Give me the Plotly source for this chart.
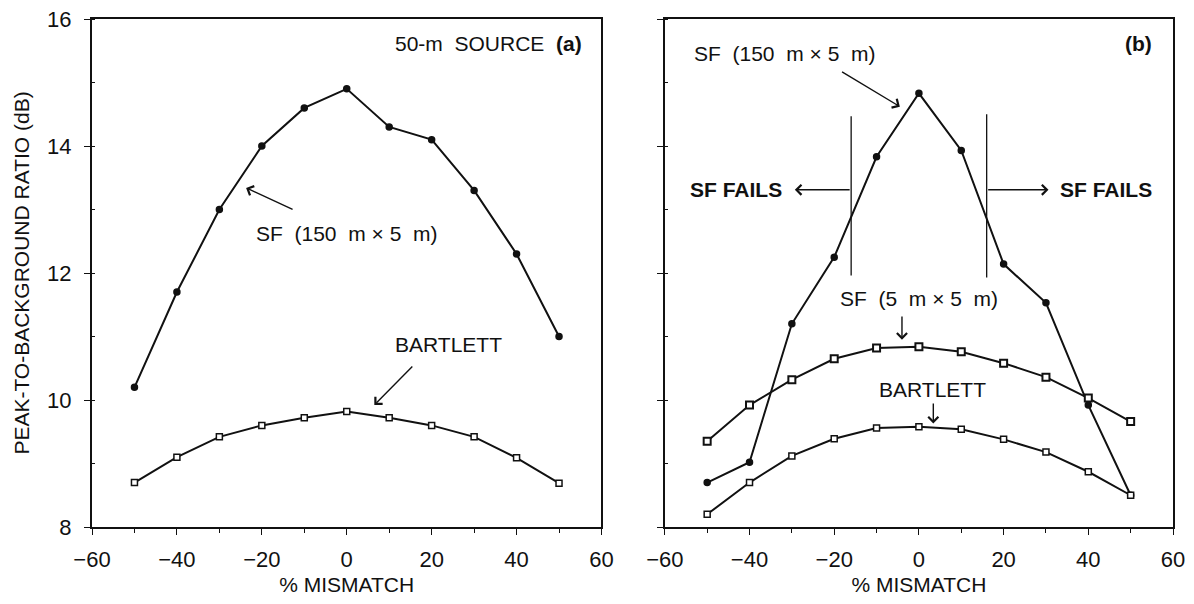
import plotly.graph_objects as go

mismatch = [-50, -40, -30, -20, -10, 0, 10, 20, 30, 40, 50]

# Panel (a): 50-m source
sf150_a = [10.2, 11.7, 13.0, 14.0, 14.6, 14.9, 14.3, 14.1, 13.3, 12.3, 11.0]
bart_a = [8.7, 9.1, 9.42, 9.6, 9.72, 9.82, 9.72, 9.6, 9.42, 9.09, 8.69]

# Panel (b)
sf150_b = [8.7, 9.02, 11.2, 12.25, 13.83, 14.83, 13.93, 12.14, 11.53, 9.92, 8.5]
sf5_b = [9.35, 9.92, 10.32, 10.65, 10.82, 10.84, 10.76, 10.58, 10.36, 10.03, 9.66]
bart_b = [8.2, 8.7, 9.12, 9.39, 9.56, 9.58, 9.54, 9.38, 9.18, 8.87, 8.5]

x_ticks = [-60, -40, -20, 0, 20, 40, 60]
y_ticks = [8, 10, 12, 14, 16]

FONT = "Liberation Sans, Arial, sans-serif"
BLACK = "#111111"
SP = "&nbsp; "  # wide gap as in the original lettering

fig = go.Figure()

def add_line(x, y, xa, ya, symbol, size, lw=2.0, mlw=1.5):
    filled = symbol == "circle"
    fig.add_trace(go.Scatter(
        x=x, y=y, xaxis=xa, yaxis=ya, mode="lines+markers",
        line=dict(color=BLACK, width=lw),
        marker=dict(symbol=symbol, size=size, color=BLACK if filled else "white",
                    line=dict(color=BLACK, width=mlw)),
        showlegend=False, hoverinfo="x+y"))

add_line(mismatch, sf150_a, "x", "y", "circle", 6)
add_line(mismatch, bart_a, "x", "y", "square", 6)
add_line(mismatch, sf150_b, "x2", "y2", "circle", 6)
add_line(mismatch, sf5_b, "x2", "y2", "square", 7, mlw=2)
add_line(mismatch, bart_b, "x2", "y2", "square", 6)

# vertical "SF fails" lines in panel (b)
fig.add_trace(go.Scatter(x=[-16, -16], y=[11.96, 14.47], xaxis="x2", yaxis="y2", mode="lines",
                         line=dict(color=BLACK, width=1.3), showlegend=False, hoverinfo="skip"))
fig.add_trace(go.Scatter(x=[16, 16], y=[11.93, 14.5], xaxis="x2", yaxis="y2", mode="lines",
                         line=dict(color=BLACK, width=1.3), showlegend=False, hoverinfo="skip"))

axis_common = dict(range=[-60, 60], tickvals=x_ticks, automargin=False,
                   ticks="outside", ticklen=6, tickwidth=1.3, tickcolor=BLACK,
                   ticklabelstandoff=6, ticklabeloverflow="allow",
                   showline=True, linecolor=BLACK, linewidth=2, mirror=True,
                   showgrid=False, zeroline=False,
                   tickfont=dict(family=FONT, size=22, color=BLACK),
                   minor=dict(dtick=10, ticks="outside", ticklen=4, tickcolor=BLACK, showgrid=False),
                   title=dict(text="% MISMATCH", font=dict(family=FONT, size=21, color=BLACK), standoff=6))
yaxis_common = dict(range=[8, 16], tickvals=y_ticks, automargin=False,
                    ticks="outside", ticklen=6, tickwidth=1.3, tickcolor=BLACK,
                    ticklabelstandoff=8, ticklabeloverflow="allow",
                    showline=True, linecolor=BLACK, linewidth=2, mirror=True,
                    showgrid=False, zeroline=False,
                    tickfont=dict(family=FONT, size=22, color=BLACK),
                    minor=dict(dtick=1, ticks="inside", ticklen=3, tickcolor=BLACK, showgrid=False))

fig.update_layout(
    width=1178, height=588,
    margin=dict(l=84, r=13, t=11, b=69),
    paper_bgcolor="white", plot_bgcolor="white",
    font=dict(family=FONT, color=BLACK),
    xaxis=dict(domain=[0, 0.4713], anchor="y", **axis_common),
    xaxis2=dict(domain=[0.5299, 1], anchor="y2", **axis_common),
    yaxis=dict(domain=[0, 1], anchor="x",
               title=dict(text="PEAK-TO-BACKGROUND RATIO (dB)",
                          font=dict(family=FONT, size=21, color=BLACK), standoff=12),
               **yaxis_common),
    yaxis2=dict(domain=[0, 1], anchor="x2", showticklabels=False, **yaxis_common),
)

def text(x, y, t, xa, ya, size=21, bold=False, xanchor="center"):
    fig.add_annotation(x=x, y=y, xref=xa, yref=ya, text=f"<b>{t}</b>" if bold else t,
                       showarrow=False, xanchor=xanchor,
                       font=dict(family=FONT, size=size, color=BLACK))

def arrow(x0, y0, x1, y1, xa, ya):
    fig.add_annotation(x=x1, y=y1, ax=x0, ay=y0, xref=xa, yref=ya, axref=xa, ayref=ya,
                       text="", showarrow=True, arrowhead=4, arrowsize=1.4, arrowwidth=1.4,
                       arrowcolor=BLACK)

sf_big = f"SF{SP}(150{SP}m × 5{SP}m)"
sf_small = f"SF{SP}(5{SP}m × 5{SP}m)"

# Panel (a) annotations
fig.add_annotation(x=55.8, y=15.61, xref="x", yref="y", xanchor="right", showarrow=False,
                   text=f"50-m{SP}SOURCE{SP}<b>(a)</b>", font=dict(family=FONT, size=21, color=BLACK))
text(0, 12.62, sf_big, "x", "y")
arrow(-12.4, 12.99, -23.7, 13.34, "x", "y")
text(24, 10.88, "BARTLETT", "x", "y")
arrow(15.8, 10.55, 6.5, 9.92, "x", "y")

# Panel (b) annotations
text(55.5, 15.62, "(b)", "x2", "y2", bold=True, xanchor="right")
text(-31.7, 15.46, sf_big, "x2", "y2")
arrow(-18.5, 15.18, -4.5, 14.62, "x2", "y2")
text(-43.2, 13.31, "SF FAILS", "x2", "y2", bold=True)
arrow(-16, 13.31, -29.3, 13.31, "x2", "y2")
text(44.2, 13.31, "SF FAILS", "x2", "y2", bold=True)
arrow(16, 13.31, 30.6, 13.31, "x2", "y2")
text(0, 11.6, sf_small, "x2", "y2")
arrow(-4, 11.34, -4, 10.95, "x2", "y2")
text(3.2, 10.17, "BARTLETT", "x2", "y2")
arrow(3.4, 9.97, 3.4, 9.63, "x2", "y2")

fig.write_html("out.html")
